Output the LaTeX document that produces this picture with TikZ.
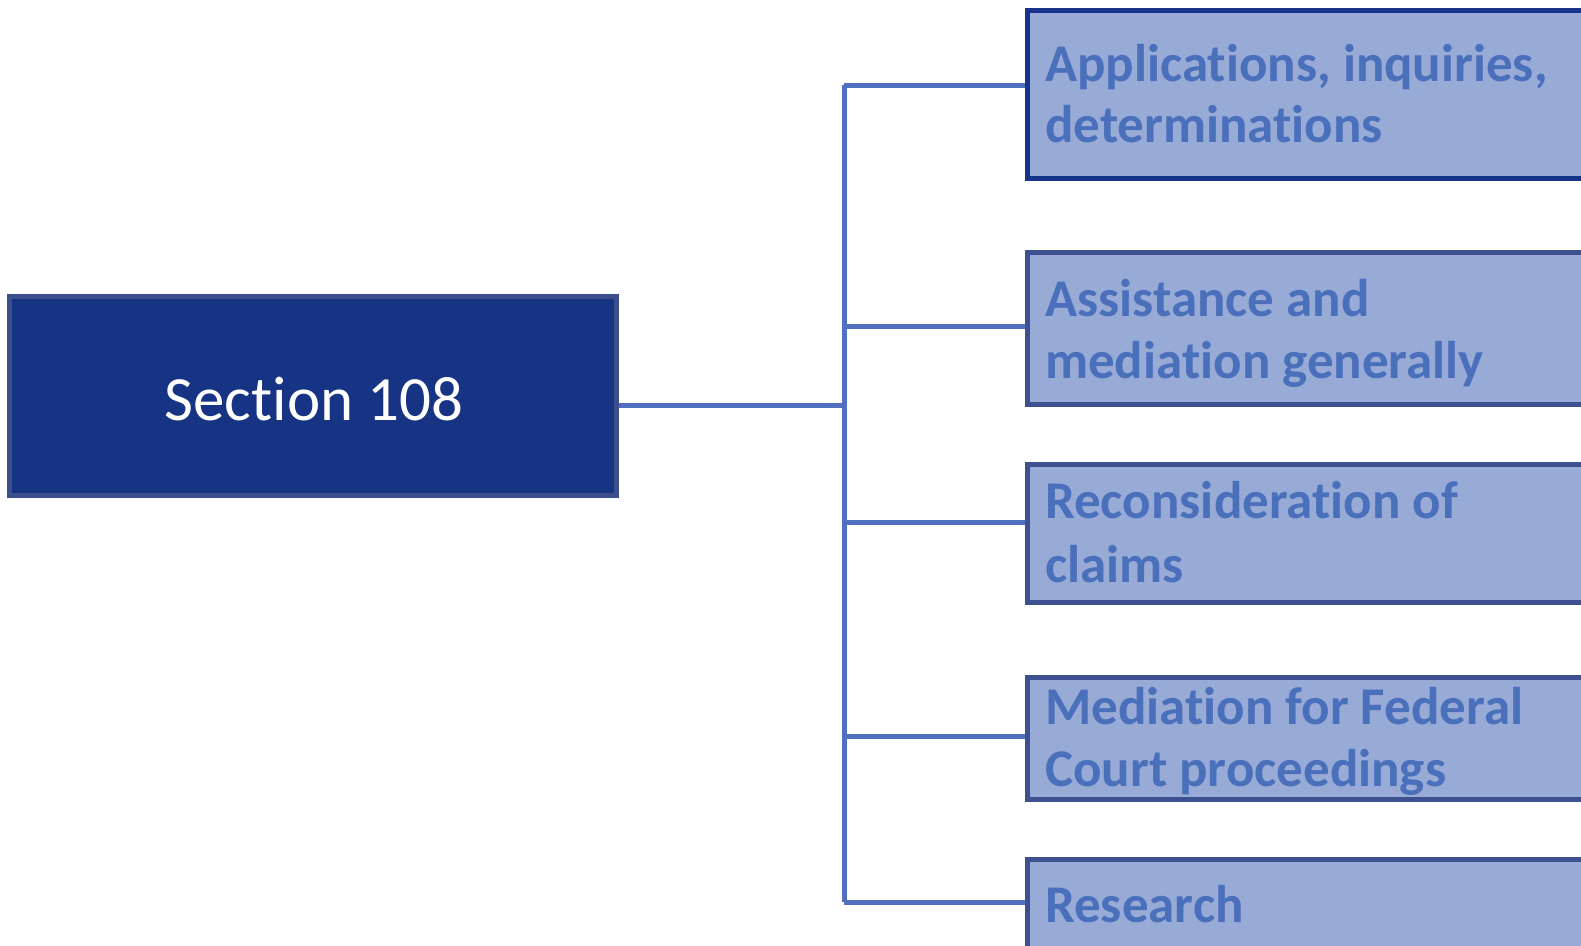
\documentclass[tikz,border=0pt]{standalone}
\usepackage{fontspec}
\setmainfont{Carlito}[RawFeature={-liga;-clig;-dlig}]
\newcommand{\nti}{t\kern0pt i}
\definecolor{secfill}{HTML}{173383}
\definecolor{secborder}{HTML}{3C4F8C}
\definecolor{firstborder}{HTML}{17338A}
\definecolor{itemborder}{HTML}{3D5190}
\definecolor{itemfill}{HTML}{98AAD6}
\definecolor{itemtxt}{HTML}{4A6FBB}
\definecolor{linkcol}{HTML}{5270BF}
\begin{document}
\begin{tikzpicture}[x=1pt,y=-1pt,
  secbox/.style={draw=secborder, fill=secfill, line width=4.5pt, rectangle, inner sep=0pt,
    text=white, font=\fontsize{63}{76}\selectfont},
  itembox/.style={draw=itemborder, fill=itemfill, line width=5pt, rectangle, inner sep=0pt,
    anchor=north west, minimum width=700pt},
  itemtext/.style={text=itemtxt, font=\fontsize{53}{64}\selectfont\bfseries, anchor=base west, inner sep=0pt},
  link/.style={draw=linkcol, line width=5pt}]
\clip (0,0) rectangle (1581,945);
\useasboundingbox (0,0) rectangle (1581,945);
% central box
\node[secbox, minimum width=607pt, minimum height=199pt] (sec) at (313,396) {};
\node[text=white, font=\fontsize{63}{76}\selectfont, anchor=base, inner sep=0pt] (sectxt) at (314,420) {Sec\nti on 108};
% item boxes
\node[itembox, draw=firstborder, minimum height=168pt] (b1) at (1025,8) {};
\node[itembox, minimum height=152pt] (b2) at (1025,250) {};
\node[itembox, minimum height=138pt] (b3) at (1025,462) {};
\node[itembox, minimum height=122pt] (b4) at (1025,675) {};
\node[itembox, minimum height=200pt] (b5) at (1025,857) {};
% texts
\node[itemtext] (t1a) at (1045,81) {Applica\nti ons, inquiries,};
\node[itemtext] (t1b) at (1045,142) {determina\nti ons};
\node[itemtext] (t2a) at (1045,316) {Assistance and};
\node[itemtext] (t2b) at (1045,378) {media\nti on generally};
\node[itemtext] (t3a) at (1045,518) {Reconsidera\nti on of};
\node[itemtext] (t3b) at (1045,582) {claims};
\node[itemtext] (t4a) at (1045,724) {Media\nti on for Federal};
\node[itemtext] (t4b) at (1045,786) {Court proceedings};
\node[itemtext] (t5a) at (1045,922) {Research};
% connectors
\coordinate (j0) at (844,405);
\coordinate (j1) at (844,85);
\coordinate (j2) at (844,326.5);
\coordinate (j3) at (844,522);
\coordinate (j4) at (844,736);
\coordinate (j5) at (844,902);
\draw[link] (sec.east |- j0) -- (j0);
\draw[link] (j1) -- (j5);
\draw[link] (j1) -- (b1.west |- j1);
\draw[link] (j2) -- (b2.west |- j2);
\draw[link] (j3) -- (b3.west |- j3);
\draw[link] (j4) -- (b4.west |- j4);
\draw[link] (j5) -- (b5.west |- j5);
\end{tikzpicture}
\end{document}
